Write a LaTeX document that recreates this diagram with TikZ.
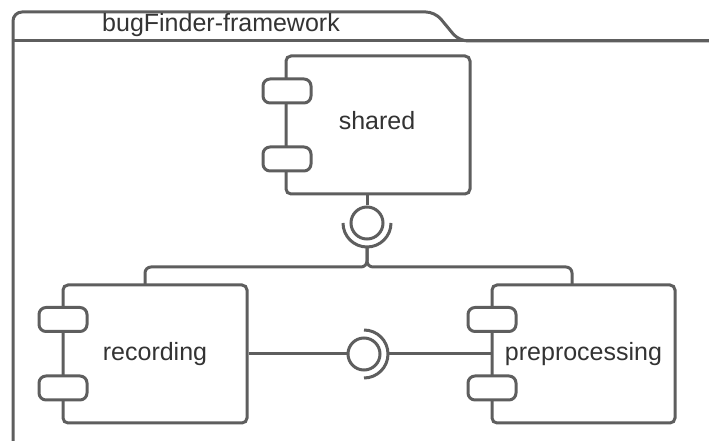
\documentclass[tikz,border=0pt]{standalone}
\usepackage{fontspec}
\setmainfont{Liberation Sans}
\usepackage{tikz}
\definecolor{umlline}{HTML}{5E5E5E}
\definecolor{umltext}{HTML}{333333}
\tikzset{
	comp/.style={draw=umlline, line width=3pt, rounded corners=5pt, fill=white, minimum width=184pt, minimum height=138pt, inner sep=0pt, text=umltext, font=\fontsize{25}{30}\selectfont},
	port/.style={draw=umlline, line width=3pt, rounded corners=7pt, fill=white, minimum width=48pt, minimum height=24pt, inner sep=0pt},
	ball/.style={draw=umlline, line width=3pt, circle, fill=white, minimum size=32pt, inner sep=0pt},
	wire/.style={draw=umlline, line width=3pt}
}
\begin{document}
\begin{tikzpicture}[x=1pt,y=1pt]
				\useasboundingbox (0,0) rectangle (709,441);
				\draw[wire, rounded corners=9pt] (13,0) -- (13,429) -- (435,429) -- (459,400) -- (709,400);
				\draw[wire] (13,400) -- (709,400);
				\node[text=umltext, font=\fontsize{25}{30}\selectfont] (pkgname) at (221,416) {bugFinder-framework};
				\node[comp] (shared) at (378,316) {};
				\node[text=umltext, font=\fontsize{25}{30}\selectfont] (sharedlabel) at (377,320) {shared};
				\node[port] (shared-p1) at (287,350) {};
				\node[port] (shared-p2) at (287,282) {};
				\node[comp] (recording) at (155,87) {recording};
				\node[port] (recording-p1) at (63,121.5) {};
				\node[port] (recording-p2) at (63,53) {};
				\node[comp, minimum width=183pt] (preprocessing) at (583.5,87) {preprocessing};
				\node[port] (preprocessing-p1) at (492,121.5) {};
				\node[port] (preprocessing-p2) at (492,53) {};
				\node[ball] (sharedif) at (367,218) {};
				\coordinate (sharedsock) at (367,194);
				\coordinate (bus) at (367,174);
				\coordinate (rectop) at (145,156);
				\coordinate (pretop) at (572,156);
				\draw[wire] (sharedif.north) -- (sharedif.north |- shared.south);
				\draw[wire] (343,218) arc[start angle=180, end angle=360, radius=24];
				\draw[wire, rounded corners=6pt] (sharedsock) -- (bus) -| (rectop);
				\draw[wire, rounded corners=6pt] (sharedsock) -- (bus) -| (pretop);
				\node[ball] (recif) at (364,87) {};
				\coordinate (recsock) at (388,87);
				\draw[wire] (recording.east) -- (recif.west);
				\draw[wire] (364,111) arc[start angle=90, end angle=-90, radius=24];
				\draw[wire] (recsock) -- (preprocessing.west);
			\end{tikzpicture}
\end{document}
